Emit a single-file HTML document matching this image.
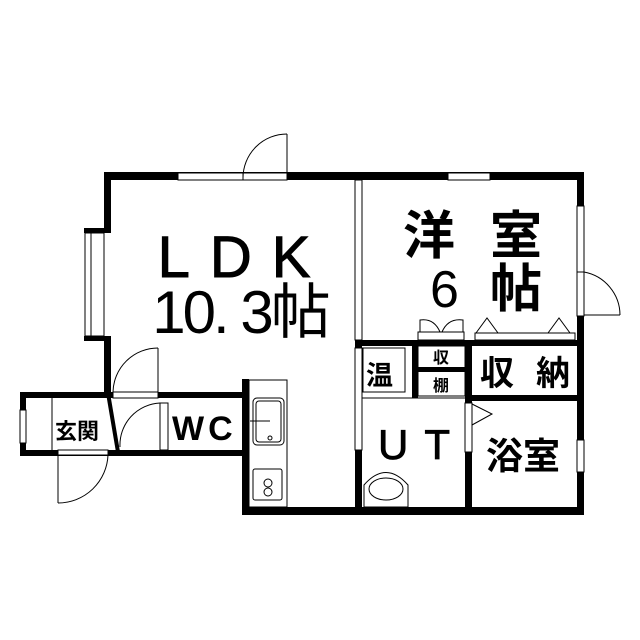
<!DOCTYPE html>
<html><head><meta charset="utf-8"><style>
html,body{margin:0;padding:0;background:#fff;}
svg{display:block;}
text{font-family:"Liberation Sans","Noto Sans CJK JP",sans-serif;fill:#000;}
</style></head><body>
<svg width="640" height="640" viewBox="0 0 640 640" xmlns="http://www.w3.org/2000/svg">
<g fill="#fff" stroke="#000" stroke-width="1">
<rect x="418" y="346" width="47" height="50"/>
<rect x="363" y="348" width="42" height="44"/>
</g>
<g fill="#000">
<rect x="104" y="172" width="480" height="8"/>
<rect x="104" y="172" width="7" height="58"/>
<rect x="84" y="228" width="27" height="5"/>
<rect x="84" y="336" width="27" height="5"/>
<rect x="104" y="336" width="7" height="62"/>
<rect x="577" y="172" width="7" height="343"/>
<rect x="242" y="507" width="342" height="8"/>
<rect x="242" y="379" width="7" height="136"/>
<rect x="20" y="392" width="229" height="6"/>
<rect x="20" y="450" width="229" height="6"/>
<rect x="20" y="392" width="6" height="64"/>
<rect x="355" y="340" width="7" height="8"/>
<rect x="355" y="450" width="7" height="62"/>
<rect x="355" y="340" width="229" height="6"/>
<rect x="412" y="340" width="6" height="58"/>
<rect x="418" y="367" width="50" height="5"/>
<rect x="465" y="340" width="7" height="172"/>
<rect x="465" y="395" width="119" height="6"/>
</g>
<g fill="#fff" stroke="#000" stroke-width="1">
<rect x="178" y="173" width="65" height="7"/>
<rect x="243" y="173" width="44" height="7"/>
<rect x="448" y="173" width="42" height="7"/>
<rect x="85" y="233" width="6" height="103"/>
<rect x="91" y="233" width="13" height="103"/>
<rect x="577" y="206" width="7" height="66"/>
<rect x="577" y="272" width="7" height="44"/>
<rect x="577" y="440" width="7" height="32"/>
<rect x="20" y="410" width="6" height="33"/>
<rect x="113" y="392" width="45" height="6"/>
<rect x="160" y="403" width="8" height="47"/>
<rect x="58" y="450" width="50" height="5"/>
<rect x="355" y="180" width="7" height="160"/>
<rect x="355" y="348" width="7" height="102"/>
<rect x="465" y="403" width="7" height="49"/>
<rect x="418" y="332" width="46" height="8"/>
<rect x="475" y="333" width="100" height="7"/>
<rect x="249" y="380" width="38" height="127"/>
<rect x="253" y="398" width="31" height="47" rx="4"/>
<rect x="256" y="401" width="25" height="41" rx="3"/>
<rect x="253" y="469" width="29" height="31" rx="2"/>
</g>
<g fill="none" stroke="#000" stroke-width="1">
<path d="M287 134 A44 44 0 0 0 243 178"/><line x1="287" y1="134" x2="287" y2="173"/>
<path d="M584 272 A44 44 0 0 1 620 315"/><line x1="584" y1="315" x2="620" y2="315"/>
<path d="M158 348 A45 45 0 0 0 113 392"/><line x1="158" y1="348" x2="158" y2="392"/>
<path d="M160 403 A42 42 0 0 0 120 447"/>
<path d="M108 455 A50 50 0 0 1 58 503"/><line x1="58" y1="455" x2="58" y2="503"/>
<line x1="52" y1="398" x2="52" y2="450"/>
<line x1="108" y1="393" x2="118" y2="452" stroke-width="4"/>
<path d="M420 332 L420 320 Q434 318 440 332 M463 332 L463 320 Q448 318 442 332"/>
<path d="M476 333 L487 318 L498 333 M548 333 L559 318 L570 333"/>
<path d="M472 404 L492 414 L472 425"/>
<circle cx="268" cy="483" r="4"/><circle cx="268" cy="492" r="4"/>
<circle cx="270" cy="438" r="2"/>
<line x1="250" y1="421" x2="270" y2="421"/>
<path d="M364 507 L364 485 Q386 460 408 485 L408 507 Z"/>
<ellipse cx="386" cy="489" rx="17" ry="11"/>
<line x1="362" y1="398" x2="465" y2="398"/>
</g>
<text x="244" y="277" font-size="58" text-anchor="middle" letter-spacing="20" stroke="#000" stroke-width="1">LDK</text>
<text x="240" y="333" font-size="60" text-anchor="middle" letter-spacing="-3">10. 3帖</text>
<text x="403" y="254" font-size="52" font-weight="bold">洋</text>
<text x="490" y="254" font-size="52" font-weight="bold">室</text>
<text x="430" y="307" font-size="52">6</text>
<text x="490" y="307" font-size="52" font-weight="bold">帖</text>
<text x="366" y="385" font-size="27" font-weight="bold">温</text>
<text x="441" y="363" font-size="16" font-weight="bold" text-anchor="middle">収</text>
<text x="441" y="391" font-size="16" font-weight="bold" text-anchor="middle">棚</text>
<text x="480" y="385" font-size="34" font-weight="bold">収</text>
<text x="536" y="385" font-size="34" font-weight="bold">納</text>
<text x="378" y="459" font-size="42" letter-spacing="16" stroke="#000" stroke-width="0.8">UT</text>
<text x="172" y="440" font-size="34" font-weight="bold" letter-spacing="4">WC</text>
<text x="486" y="469" font-size="37" font-weight="bold">浴室</text>
<text x="55" y="439" font-size="22" font-weight="bold">玄関</text>
</svg>
</body></html>
